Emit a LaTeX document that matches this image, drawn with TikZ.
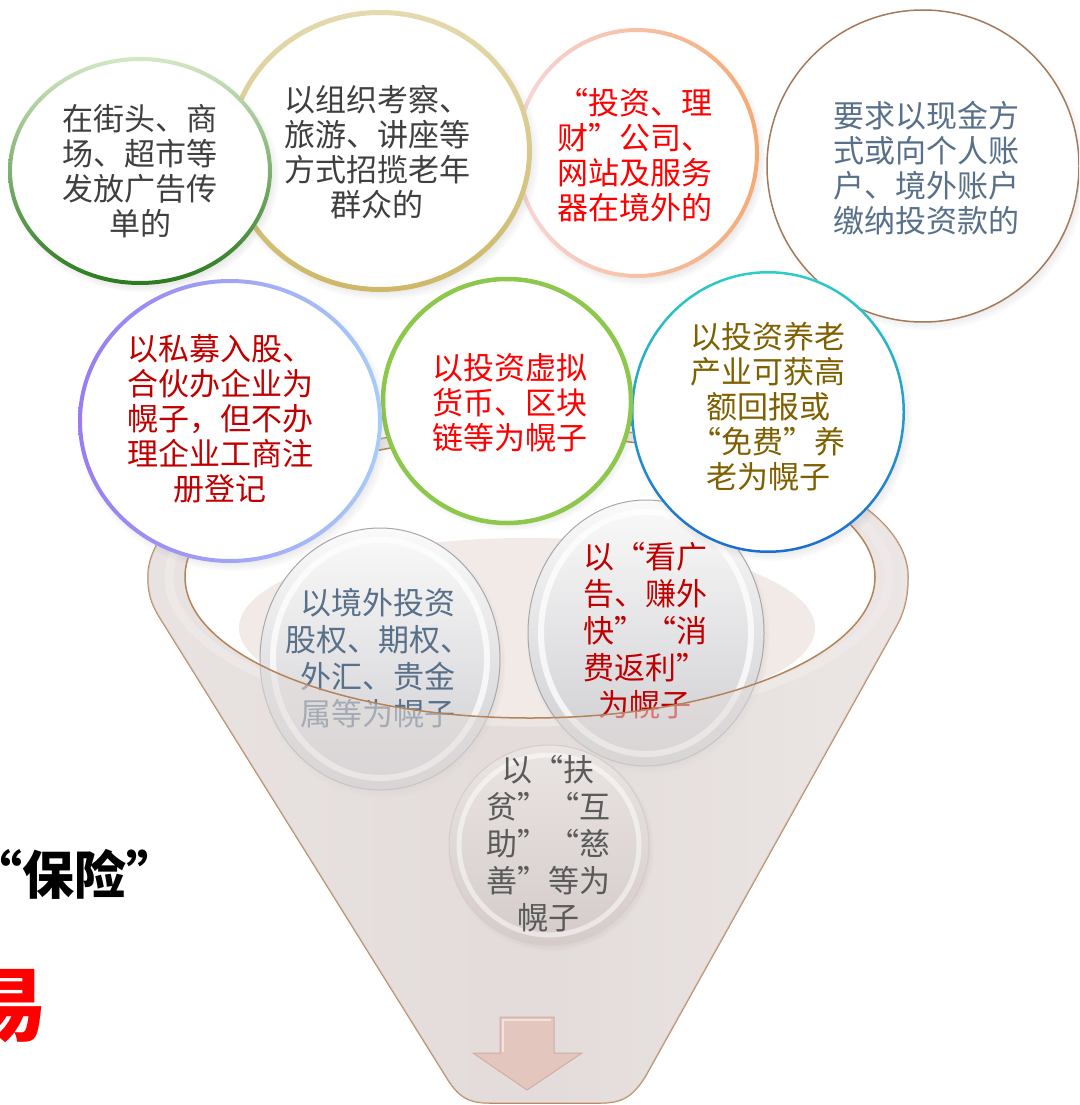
\documentclass[tikz,border=0pt]{standalone}
\usepackage{fontspec}
\newfontfamily\cjk{Noto Sans CJK SC}
\usetikzlibrary{shadows,shapes.geometric}
\definecolor{gtop}{HTML}{D3E7C4}
\definecolor{gbot}{HTML}{2C7A1E}
\definecolor{tantop}{HTML}{E4DAAE}
\definecolor{tanbot}{HTML}{CDB868}
\definecolor{pk}{HTML}{F8D6D8}
\definecolor{orng}{HTML}{F5AA74}
\definecolor{brn}{HTML}{A47A5C}
\definecolor{pu}{HTML}{9A7CF2}
\definecolor{lbl}{HTML}{A8CCF8}
\definecolor{lgr}{HTML}{8DC84C}
\definecolor{teal}{HTML}{2CCDC4}
\definecolor{blu}{HTML}{1E6CD0}
\definecolor{dk}{HTML}{3F3F3F}
\definecolor{rd}{HTML}{FF0000}
\definecolor{drd}{HTML}{C00000}
\definecolor{slate}{HTML}{58708A}
\definecolor{olive}{HTML}{7F6000}
\definecolor{gry}{HTML}{5A5A5A}
\definecolor{funM}{HTML}{E3DCDA}
\definecolor{funL}{HTML}{F0ECEB}
\definecolor{funR}{HTML}{F7F4F3}
\definecolor{funline}{HTML}{B5835A}
\definecolor{beige}{HTML}{F2EAE6}
\definecolor{arrowc}{HTML}{E3C6BD}
\definecolor{arrowd}{HTML}{D0AEA3}
\definecolor{glasstop}{HTML}{FAFAFA}
\definecolor{glassbot}{HTML}{CDCDD1}
\definecolor{glassline}{HTML}{A8A8AC}
\definecolor{tintTop}{HTML}{EAE4E2}
\definecolor{tintBot}{HTML}{D5CCCA}
\tikzset{
  bub/.style={ellipse, inner sep=0pt, fill=white,
    circular drop shadow={shadow xshift=3pt, shadow yshift=-4pt, opacity=0.35, shadow scale=1.03}},
  glass/.style={ellipse, inner sep=0pt, draw=glassline, line width=1pt,
    top color=glasstop, bottom color=glassbot,
    circular drop shadow={shadow xshift=2pt, shadow yshift=-4pt, opacity=0.3, shadow scale=1.03}},
  txt/.style={align=center, inner sep=0pt, font=\cjk\fontsize{31}{35}\selectfont},
  gtxt/.style={align=center, inner sep=0pt, font=\cjk\fontsize{31}{37}\selectfont},
}
\def\FunPath{(908,577) arc[start angle=0, end angle=-180, x radius=380, y radius=150]
  .. controls (148,595) and (152,605) .. (160,618) -- (445,1075)
  .. controls (458,1097) and (468,1103) .. (490,1103) -- (600,1103)
  .. controls (622,1103) and (632,1097) .. (645,1077) -- (897,625)
  .. controls (905,610) and (908,595) .. (908,577) -- cycle}
\begin{document}
\begin{tikzpicture}[x=1pt, y=-1pt]
\useasboundingbox (0,0) rectangle (1079,1105);
\clip (0,0) rectangle (1079,1105);
\fill[white] (0,0) rectangle (1079,1105);

% left partial texts
\node[anchor=west, inner sep=0pt, font=\cjk\bfseries\fontsize{52}{52}\selectfont] (lt1) at (-30,874) {“保险”};
\node[inner sep=0pt, text=rd, font=\cjk\bfseries\fontsize{80}{80}\selectfont] (lt2) at (8,1006) {易};

% funnel body
\path[left color=funL, right color=funR, middle color=funM] \FunPath;
\draw[white, line width=9pt, opacity=0.7] (529,577) ellipse [x radius=360, y radius=145];
\draw[funline, line width=1.5pt] \FunPath;
% opening
\fill[white] (530,577) ellipse [x radius=345, y radius=141];
\fill[beige] (527,628) ellipse [x radius=288, y radius=90];

% glass circles behind the front
\node[glass, minimum width=240pt, minimum height=262pt] (c8) at (380,659) {};
\draw[white, line width=6pt, opacity=0.75] (c8.center) ellipse [x radius=107, y radius=119];
\node[gtxt, text=slate] (t8) at (378,658) {以境外投资\\股权、期权、\\外汇、贵金\\属等为幌子};
\node[glass, minimum width=236pt, minimum height=266pt] (c9) at (646,633) {};
\draw[white, line width=6pt, opacity=0.75] (c9.center) ellipse [x radius=105, y radius=121];
\node[gtxt, text=drd] (t9) at (645,631) {以“看广\\告、赚外\\快”“消\\费返利”\\为幌子};

% front of funnel, translucent
\path[fill=funM, fill opacity=0.55, even odd rule] \FunPath (530,577) ellipse [x radius=345, y radius=141];
\draw[funline, line width=1.5pt] (530,577) ellipse [x radius=345, y radius=141];

% bottom glass circle
\node[ellipse, inner sep=0pt, draw=tintBot, line width=1pt, top color=tintTop, bottom color=tintBot,
  circular drop shadow={shadow xshift=2pt, shadow yshift=-3pt, opacity=0.25, shadow scale=1.03},
  minimum width=200pt, minimum height=200pt] (c10) at (549,845) {};
\draw[white, line width=5pt, opacity=0.5] (c10.center) ellipse [x radius=90, y radius=90];
\node[gtxt, text=gry] (t10) at (548,844) {以“扶\\贫”“互\\助”“慈\\善”等为\\幌子};

% arrow
\path[fill=arrowc, draw=arrowd, line width=1pt] (500,1017) -- (554,1017) -- (554,1053) -- (582,1053)
  -- (527,1090) -- (473,1053) -- (500,1053) -- cycle;
\draw[white, opacity=0.5, line width=1.5pt] (503,1052) -- (503,1020) -- (551,1020);

% top row
\node[bub, draw=brn, line width=1.5pt, minimum width=312pt, minimum height=312pt] (c4) at (923,166) {};
\node[txt, text=slate] (t4) at (926,168) {要求以现金方\\式或向个人账\\户、境外账户\\缴纳投资款的};

\node[bub, minimum width=244pt, minimum height=250pt] (c3) at (637,153) {};
\path[even odd rule, left color=pk, right color=orng] (c3.center) ellipse [x radius=122, y radius=125] ellipse [x radius=118, y radius=121];
\node[txt, text=rd] (t3) at (635,155) {“投资、理\\财”公司、\\网站及服务\\器在境外的};

\node[bub, minimum width=304pt, minimum height=282pt] (c2) at (380,151) {};
\path[even odd rule, top color=tantop, bottom color=tanbot] (c2.center) ellipse [x radius=152, y radius=141] ellipse [x radius=147, y radius=136];
\node[txt, text=dk] (t2) at (377,152) {以组织考察、\\旅游、讲座等\\方式招揽老年\\群众的};

\node[bub, minimum width=264pt, minimum height=228pt] (c1) at (140,171) {};
\path[even odd rule, top color=gtop, bottom color=gbot] (c1.center) ellipse [x radius=132, y radius=114] ellipse [x radius=128, y radius=110];
\node[txt, text=dk] (t1) at (140,171) {在街头、商\\场、超市等\\发放广告传\\单的};

% second row
\node[bub, minimum width=274pt, minimum height=282pt] (c7) at (768,412) {};
\path[even odd rule, top color=teal, bottom color=blu] (c7.center) ellipse [x radius=137, y radius=141] ellipse [x radius=134.5, y radius=138.5];
\node[txt, text=olive] (t7) at (768,407) {以投资养老\\产业可获高\\额回报或\\“免费”养\\老为幌子};

\node[bub, draw=lgr, line width=4.5pt, minimum width=248pt, minimum height=244pt] (c6) at (507,401) {};
\node[txt, text=rd] (t6) at (510,403) {以投资虚拟\\货币、区块\\链等为幌子};

\node[bub, minimum width=304pt, minimum height=284pt] (c5) at (230,421) {};
\path[even odd rule, left color=pu, right color=lbl] (c5.center) ellipse [x radius=152, y radius=142] ellipse [x radius=148, y radius=138];
\node[txt, text=drd] (t5) at (220,419) {以私募入股、\\合伙办企业为\\幌子，但不办\\理企业工商注\\册登记};
\end{tikzpicture}
\end{document}
